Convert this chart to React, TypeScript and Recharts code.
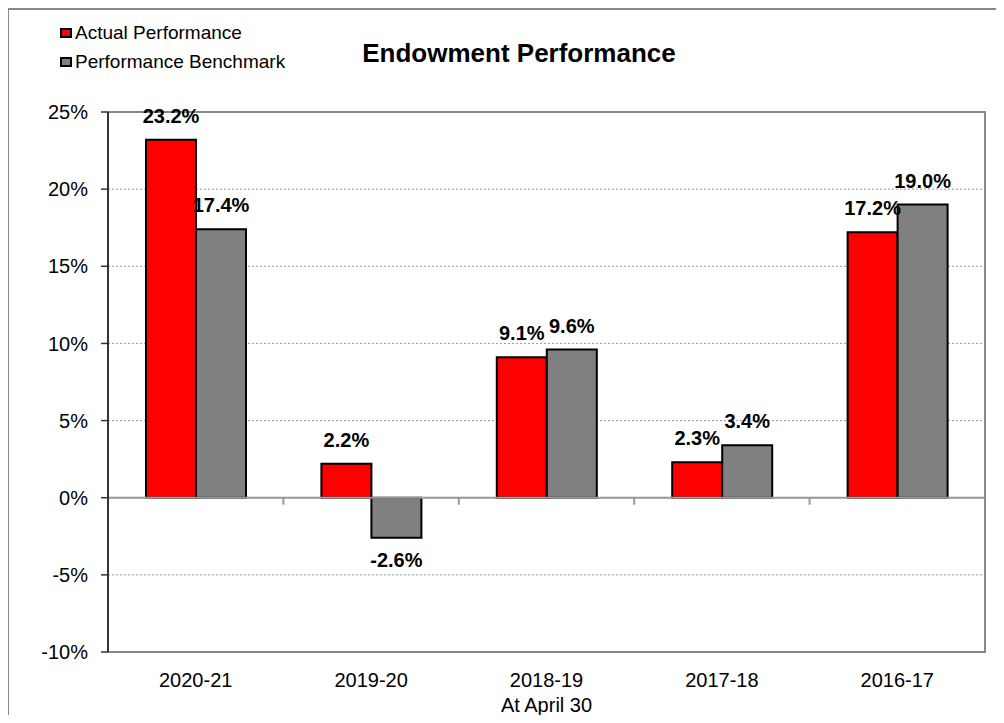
import React from "react";
import {
  BarChart,
  Bar,
  XAxis,
  YAxis,
  CartesianGrid,
  ReferenceLine,
  ReferenceArea,
  Legend,
  LabelList,
} from "recharts";

const years = ["2020-21", "2019-20", "2018-19", "2017-18", "2016-17"];
const actual = [23.2, 2.2, 9.1, 2.3, 17.2];
const benchmark = [17.4, -2.6, 9.6, 3.4, 19.0];
const yTicks = [-10, -5, 0, 5, 10, 15, 20, 25];

const series = [
  { key: "actual", name: "Actual Performance", color: "#FF0000" },
  { key: "benchmark", name: "Performance Benchmark", color: "#808080" },
];

const data = years.map((year, i) => ({
  year,
  actual: actual[i],
  benchmark: benchmark[i],
}));

const FONT = "'Liberation Sans', Arial, Helvetica, sans-serif";
const W = 996;
const H = 715;
const M = { top: 104, right: 19, bottom: 31, left: 40 };
const Y_W = 60;
const X_H = 40;
const plotW = W - M.left - Y_W - M.right;
const plotH = H - M.top - M.bottom - X_H;
const zeroY = M.top + (plotH * 25) / 35;

// category labels + small boundary ticks hanging off the zero line
const XTick = (props: any) => {
  const { x, y, payload, index } = props;
  const band = plotW / years.length;
  return (
    <g>
      <text x={x} y={y + 35} textAnchor="middle" fontSize={20} fontFamily={FONT} fill="#000">
        {payload.value}
      </text>
      {index < years.length - 1 && (
        <line x1={x + band / 2} x2={x + band / 2} y1={zeroY} y2={zeroY + 7} stroke="#999" strokeWidth={2} />
      )}
    </g>
  );
};

const renderValue = (props: any) => {
  const vb = props.viewBox && props.viewBox.width != null ? props.viewBox : props;
  const { x, y, width, height } = vb;
  const value = Number(props.value);
  const top = Math.min(y, y + height);
  const bottom = Math.max(y, y + height);
  return (
    <text
      x={x + width / 2}
      y={value < 0 ? bottom + 29 : top - 17}
      textAnchor="middle"
      fontSize={20}
      fontWeight="bold"
      fontFamily={FONT}
      fill="#000"
    >
      {`${value.toFixed(1)}%`}
    </text>
  );
};

const renderLegend = () => (
  <div style={{ fontFamily: FONT, fontSize: 19, lineHeight: "29px", color: "#000" }}>
    {series.map((s) => (
      <div key={s.key} style={{ display: "flex", alignItems: "center", whiteSpace: "nowrap" }}>
        <span
          style={{
            display: "inline-block",
            width: 12,
            height: 10,
            boxSizing: "border-box",
            background: s.color,
            border: "2px solid #000",
            marginRight: 3,
          }}
        />
        {s.name}
      </div>
    ))}
  </div>
);

export default function App() {
  return (
    <div style={{ position: "relative", width: W, height: H, marginBottom: -8 }}>
      <BarChart
        width={W}
        height={H}
        data={data}
        margin={M}
        barGap={0}
        barSize={50}
        style={{ fontFamily: FONT }}
      >
        <CartesianGrid vertical={false} stroke="#999" strokeDasharray="2 2" />
        <ReferenceArea y1={-10} y2={25} fill="none" stroke="#888" strokeWidth={2} />
        <XAxis
          dataKey="year"
          height={X_H}
          axisLine={false}
          tickLine={false}
          tickSize={0}
          tickMargin={0}
          tick={<XTick />}
          interval={0}
        />
        <YAxis
          width={Y_W}
          domain={[-10, 25]}
          ticks={yTicks}
          interval={0}
          tickFormatter={(v: number) => `${v}%`}
          tick={{ fontSize: 20, fill: "#000", fontFamily: FONT }}
          tickSize={7}
          tickMargin={13}
          axisLine={{ stroke: "#333", strokeWidth: 2 }}
          tickLine={{ stroke: "#333", strokeWidth: 1.5 }}
        />
        <ReferenceLine y={0} stroke="#999" strokeWidth={2} />
        <Legend
          content={renderLegend}
          layout="vertical"
          align="center"
          verticalAlign="middle"
          wrapperStyle={{ top: 10, left: 52, width: "auto", height: "auto" }}
        />
        {series.map((s) => (
          <Bar
            key={s.key}
            dataKey={s.key}
            name={s.name}
            fill={s.color}
            stroke="#000"
            strokeWidth={2}
            isAnimationActive={false}
          >
            <LabelList dataKey={s.key} content={renderValue} />
          </Bar>
        ))}
        <text x={511} y={54} textAnchor="middle" fontSize={26} fontWeight="bold" fontFamily={FONT} fill="#000">
          Endowment Performance
        </text>
        <text x={M.left + Y_W + plotW / 2} y={704} textAnchor="middle" fontSize={20} fontFamily={FONT} fill="#000">
          At April 30
        </text>
      </BarChart>
      <div
        style={{
          position: "absolute",
          left: -1,
          top: 0,
          width: 994,
          height: H,
          boxSizing: "border-box",
          border: "2px solid #888",
          borderBottom: "none",
          pointerEvents: "none",
        }}
      />
    </div>
  );
}
